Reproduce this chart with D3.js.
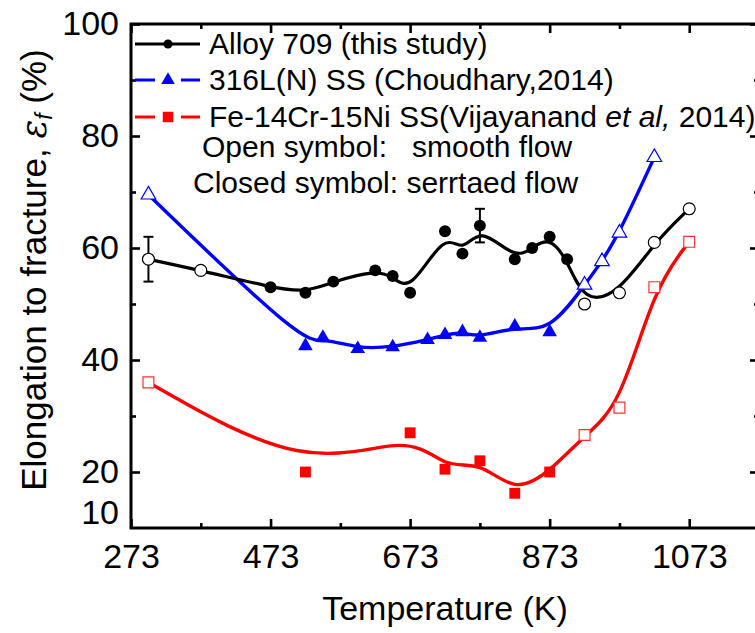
<!DOCTYPE html>
<html>
<head>
<meta charset="utf-8">
<script src="https://cdn.jsdelivr.net/npm/d3@7"></script>
<style>
  html, body { margin: 0; padding: 0; background: #fff; }
  svg { display: block; font-family: Arial, "Liberation Sans", sans-serif; }
</style>
</head>
<body>
<svg id="chart" width="755" height="633"></svg>
<script>
// ---------------- DATA ----------------
const alloyT    = [298, 373, 473, 523, 563, 623, 648, 673, 723, 748, 773, 823, 848, 873, 898, 923, 973, 1023, 1073];
const alloyV    = [58, 56, 53, 52, 54, 56, 55, 52, 63, 59, 64, 58, 60, 62, 58, 50, 52, 61, 67];
const alloyOpen = [1, 1, 0, 0, 0, 0, 0, 0, 0, 0, 0, 0, 0, 0, 0, 1, 1, 1, 1];
const alloyErrT  = [298, 773];
const alloyErrLo = [54, 61];
const alloyErrHi = [62, 67];

const ssT    = [298, 523, 548, 598, 648, 698, 723, 748, 773, 823, 873, 923, 948, 973, 1023];
const ssV    = [69.5, 42.5, 44, 42, 42.3, 43.6, 44.5, 45, 44, 46, 45, 53.4, 57.6, 62.7, 76.2];
const ssOpen = [1, 0, 0, 0, 0, 0, 0, 0, 0, 0, 0, 1, 1, 1, 1];

const feT    = [298, 523, 673, 723, 773, 823, 873, 923, 973, 1023, 1073];
const feV    = [36, 20, 27, 20.5, 22, 16.2, 20, 26.6, 31.5, 53, 61.1];
const feOpen = [1, 0, 0, 0, 0, 0, 0, 1, 1, 1, 1];

const xMajor = [273, 473, 673, 873, 1073];
const xMinor = [373, 573, 773, 973];
const yMajor = [20, 40, 60, 80, 100];
const yMinor = [30, 50, 70, 90];
const yLabels = [10, 20, 40, 60, 80, 100];

const legendNames = ["Alloy 709 (this study)", "316L(N) SS (Choudhary,2014)", "Fe-14Cr-15Ni SS"];
const noteLines = ["Open symbol:   smooth flow", "Closed symbol: serrtaed flow"];

// ---------------- SETUP ----------------
const svg = d3.select("#chart");
svg.append("rect").attr("width", 755).attr("height", 633).attr("fill", "#fff");

const x = d3.scaleLinear().domain([273, 1173]).range([131, 759]);
const y = d3.scaleLinear().domain([10, 100]).range([528, 24]);

const AX = 3;
function styleAxis(g, labels) {
  g.select(".domain").remove();
  g.selectAll(".tick line").attr("stroke", "#000").attr("stroke-width", 2.6);
  g.selectAll(".tick text").attr("fill", "#000").style("font-size", "34px").style("font-family", "Arial, 'Liberation Sans', sans-serif");
  if (!labels) g.selectAll(".tick text").remove();
}

// bottom
const gB = svg.append("g").attr("transform", `translate(0,${y(10)})`)
  .call(d3.axisBottom(x).tickValues(xMajor).tickSizeInner(-9).tickSizeOuter(0).tickPadding(16).tickFormat(d3.format("d")));
styleAxis(gB, true);
const gBm = svg.append("g").attr("transform", `translate(0,${y(10)})`)
  .call(d3.axisBottom(x).tickValues(xMinor).tickSizeInner(-5).tickSizeOuter(0).tickFormat(""));
styleAxis(gBm, false);
// top
const gT = svg.append("g").attr("transform", `translate(0,${y(100)})`)
  .call(d3.axisTop(x).tickValues(xMajor).tickSizeInner(-9).tickSizeOuter(0).tickFormat(""));
styleAxis(gT, false);
const gTm = svg.append("g").attr("transform", `translate(0,${y(100)})`)
  .call(d3.axisTop(x).tickValues(xMinor).tickSizeInner(-5).tickSizeOuter(0).tickFormat(""));
styleAxis(gTm, false);
// left
const gL = svg.append("g").attr("transform", `translate(${x(273)},0)`)
  .call(d3.axisLeft(y).tickValues(yLabels).tickSizeInner(-9).tickSizeOuter(0).tickPadding(12).tickFormat(d3.format("d")));
styleAxis(gL, true);
gL.selectAll(".tick").filter(d => d === 10).select("line").remove();
gL.selectAll(".tick").filter(d => d === 10).select("text").attr("dy", "-0.12em");
const gLm = svg.append("g").attr("transform", `translate(${x(273)},0)`)
  .call(d3.axisLeft(y).tickValues(yMinor).tickSizeInner(-5).tickSizeOuter(0).tickFormat(""));
styleAxis(gLm, false);
// right
const gR = svg.append("g").attr("transform", `translate(${x(1173)},0)`)
  .call(d3.axisRight(y).tickValues(yMajor).tickSizeInner(-9).tickSizeOuter(0).tickFormat(""));
styleAxis(gR, false);
const gRm = svg.append("g").attr("transform", `translate(${x(1173)},0)`)
  .call(d3.axisRight(y).tickValues(yMinor).tickSizeInner(-5).tickSizeOuter(0).tickFormat(""));
styleAxis(gRm, false);

// frame
svg.append("rect")
  .attr("x", x(273)).attr("y", y(100))
  .attr("width", x(1173) - x(273)).attr("height", y(10) - y(100))
  .attr("fill", "none").attr("stroke", "#000").attr("stroke-width", AX);

// axis titles
svg.append("text").attr("x", (x(273) + x(1173)) / 2).attr("y", 620)
  .attr("text-anchor", "middle").style("font-size", "34px").text("Temperature (K)");
const yt = svg.append("text").attr("transform", "translate(46,270) rotate(-90)")
  .attr("text-anchor", "middle").style("font-size", "35px");
yt.append("tspan").text("Elongation to fracture, ");
yt.append("tspan").style("font-style", "italic").style("font-family", "'DejaVu Serif', serif").text("ε");
yt.append("tspan").style("font-style", "italic").style("font-size", "23px").attr("dy", "6").text("f");
yt.append("tspan").attr("dy", "-6").text(" (%)");

// ---------------- SERIES ----------------
const line = d3.line().x(d => x(d[0])).y(d => y(d[1])).curve(d3.curveBasis);

function zip(T, V) { return T.map((t, i) => [t, V[i]]); }

const feData = zip(feT, feV);
const ssData = zip(ssT, ssV);
const alloyData = zip(alloyT, alloyV);

svg.append("path").datum(feData).attr("d", line).attr("fill", "none").attr("stroke", "#ff0000").attr("stroke-width", 3.4);
svg.append("path").datum(ssData).attr("d", line).attr("fill", "none").attr("stroke", "#0000ff").attr("stroke-width", 3.4);
svg.append("path").datum(alloyData).attr("d", line).attr("fill", "none").attr("stroke", "#000").attr("stroke-width", 3.2);

// error bars
alloyErrT.forEach((t, i) => {
  const g = svg.append("g").attr("stroke", "#000").attr("stroke-width", 2);
  g.append("line").attr("x1", x(t)).attr("x2", x(t)).attr("y1", y(alloyErrLo[i])).attr("y2", y(alloyErrHi[i]));
  g.append("line").attr("x1", x(t) - 5).attr("x2", x(t) + 5).attr("y1", y(alloyErrLo[i])).attr("y2", y(alloyErrLo[i]));
  g.append("line").attr("x1", x(t) - 5).attr("x2", x(t) + 5).attr("y1", y(alloyErrHi[i])).attr("y2", y(alloyErrHi[i]));
});

function markers(data, openArr, type, size, color, openStroke) {
  const sym = d3.symbol().type(type).size(size);
  svg.append("g").selectAll("path").data(data).join("path")
    .attr("transform", d => `translate(${x(d[0])},${y(d[1])})`)
    .attr("d", sym)
    .attr("fill", (d, i) => openArr[i] ? "#fff" : color)
    .attr("stroke", (d, i) => openArr[i] ? openStroke : "none")
    .attr("stroke-width", 1.2);
}
markers(feData, feOpen, d3.symbolSquare, 118, "#ff0000", "#ff3030");
markers(ssData, ssOpen, d3.symbolTriangle, 92, "#0000ff", "#0000ff");
markers(alloyData, alloyOpen, d3.symbolCircle, 112, "#000", "#000");

// ---------------- LEGEND ----------------
const legX1 = 135, legX2 = 200, legMid = 168, legText = 209;
const legRows = [44, 80, 117];
const legColors = ["#000", "#0000ff", "#ff0000"];
const legTypes = [d3.symbolCircle, d3.symbolTriangle, d3.symbolSquare];
const legSizes = [64, 80, 110];
const legGap = [0, 13, 13];

legRows.forEach((ly, i) => {
  const g = svg.append("g");
  if (legGap[i] === 0) {
    g.append("line").attr("x1", legX1).attr("x2", legX2).attr("y1", ly).attr("y2", ly)
      .attr("stroke", legColors[i]).attr("stroke-width", 3);
  } else {
    g.append("line").attr("x1", legX1).attr("x2", legMid - legGap[i]).attr("y1", ly).attr("y2", ly)
      .attr("stroke", legColors[i]).attr("stroke-width", 3);
    g.append("line").attr("x1", legMid + legGap[i]).attr("x2", legX2).attr("y1", ly).attr("y2", ly)
      .attr("stroke", legColors[i]).attr("stroke-width", 3);
  }
  g.append("path").attr("transform", `translate(${legMid},${ly})`)
    .attr("d", d3.symbol().type(legTypes[i]).size(legSizes[i])).attr("fill", legColors[i]);
  const t = g.append("text").attr("x", legText).attr("y", ly + 10).style("font-size", "30px");
  t.append("tspan").text(legendNames[i]);
  if (i === 2) {
    t.append("tspan").text("(Vijayanand ");
    t.append("tspan").style("font-style", "italic").text("et al,");
    t.append("tspan").text(" 2014)");
  }
});

svg.append("text").attr("x", 202).attr("y", 157).style("font-size", "30px")
  .style("white-space", "pre").text(noteLines[0]);
svg.append("text").attr("x", 193).attr("y", 193).style("font-size", "30px")
  .style("white-space", "pre").text(noteLines[1]);
</script>
</body>
</html>
